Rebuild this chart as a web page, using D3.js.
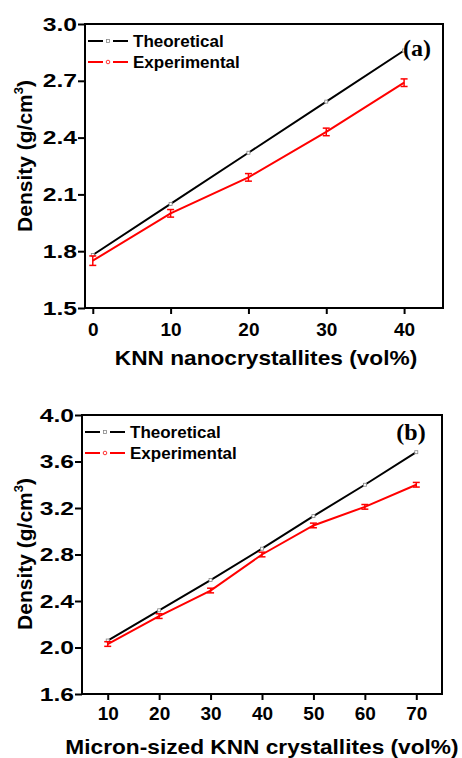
<!DOCTYPE html>
<html>
<head>
<meta charset="utf-8">
<script src="https://cdn.jsdelivr.net/npm/d3@7"></script>
<style>
  body { margin: 0; background: #fff; }
  svg text { font-family: "Liberation Sans", Arial, sans-serif; font-weight: bold; }
</style>
</head>
<body>
<svg id="chart" width="462" height="758"></svg>
<script>
// panel (a)
var nanoX      = [0, 10, 20, 30, 40];
var nanoTheo   = [1.78, 2.05, 2.32, 2.59, 2.86];
var nanoExp    = [1.75, 2.00, 2.19, 2.43, 2.69];
var nanoErr    = [0.025, 0.02, 0.02, 0.02, 0.02];
var nanoYTicks = [1.5, 1.8, 2.1, 2.4, 2.7, 3.0];

// panel (b)
var micX      = [10, 20, 30, 40, 50, 60, 70];
var micTheo   = [2.06, 2.32, 2.58, 2.85, 3.13, 3.40, 3.68];
var micExp    = [2.03, 2.27, 2.49, 2.80, 3.05, 3.21, 3.40];
var micErr    = [0.02, 0.02, 0.02, 0.02, 0.02, 0.02, 0.02];
var micYTicks = [1.6, 2.0, 2.4, 2.8, 3.2, 3.6, 4.0];

var seriesNames = ["Theoretical", "Experimental"];

var svg = d3.select("#chart");

// widen text horizontally (the source figure is a bit stretched)
function stretch(sel, k) {
    sel.each(function() {
        var w = this.getComputedTextLength();
        d3.select(this).attr("textLength", w * k).attr("lengthAdjust", "spacingAndGlyphs");
    });
}

function drawPanel(p) {
    var g = svg.append("g");

    var x = d3.scaleLinear().domain(p.xDomain).range([p.left, p.right]);
    var y = d3.scaleLinear().domain(p.yDomain).range([p.bottom, p.top]);

    // axes
    g.append("g")
        .attr("transform", "translate(0," + p.bottom + ")")
        .call(d3.axisBottom(x).tickValues(p.xs).tickSize(6).tickSizeOuter(0).tickFormat(d3.format("d")))
        .call(function(a) {
            a.select(".domain").remove();
            a.selectAll("line").attr("stroke", "#000").attr("stroke-width", 2);
            a.selectAll("text").attr("font-size", 19).attr("y", p.xTickY).attr("dy", 0).attr("fill", "#000");
        });

    var yAx = g.append("g")
        .attr("transform", "translate(" + p.left + ",0)")
        .call(d3.axisLeft(y).tickValues(p.yTicks).tickSize(7).tickSizeOuter(0).tickFormat(d3.format(".1f")))
        .call(function(a) {
            a.select(".domain").remove();
            a.selectAll("line").attr("stroke", "#000").attr("stroke-width", 2);
            a.selectAll("text").attr("font-size", 19).attr("x", -8).attr("fill", "#000");
        });
    stretch(yAx.selectAll("text"), 1.3);

    g.append("rect")
        .attr("x", p.left).attr("y", p.top)
        .attr("width", p.right - p.left).attr("height", p.bottom - p.top)
        .attr("fill", "none").attr("stroke", "#000").attr("stroke-width", 2);

    var line = d3.line().x(function(d) { return x(d[0]); }).y(function(d) { return y(d[1]); });

    // theoretical
    g.append("path")
        .datum(d3.zip(p.xs, p.theo))
        .attr("d", line).attr("fill", "none").attr("stroke", "#000").attr("stroke-width", 2);
    g.selectAll(".sq").data(d3.zip(p.xs, p.theo)).enter().append("rect")
        .attr("x", function(d) { return x(d[0]) - 1.5; })
        .attr("y", function(d) { return y(d[1]) - 1.5; })
        .attr("width", 3).attr("height", 3)
        .attr("fill", "#fff").attr("stroke", "#888").attr("stroke-width", 0.8);

    // experimental
    g.append("path")
        .datum(d3.zip(p.xs, p.exp))
        .attr("d", line).attr("fill", "none").attr("stroke", "#f00").attr("stroke-width", 2);
    var eb = g.selectAll(".eb").data(d3.zip(p.xs, p.exp, p.err)).enter().append("g");
    eb.append("line")
        .attr("x1", function(d) { return x(d[0]); }).attr("x2", function(d) { return x(d[0]); })
        .attr("y1", function(d) { return y(d[1] - d[2]); }).attr("y2", function(d) { return y(d[1] + d[2]); })
        .attr("stroke", "#f00").attr("stroke-width", 1.5);
    [-1, 1].forEach(function(s) {
        eb.append("line")
            .attr("x1", function(d) { return x(d[0]) - 3.5; }).attr("x2", function(d) { return x(d[0]) + 3.5; })
            .attr("y1", function(d) { return y(d[1] + s * d[2]); }).attr("y2", function(d) { return y(d[1] + s * d[2]); })
            .attr("stroke", "#f00").attr("stroke-width", 1.5);
    });

    // legend
    var colors = ["#000", "#f00"];
    seriesNames.forEach(function(name, i) {
        var ly = p.legendY + i * 21;
        var lx = p.left + 3;
        g.append("line").attr("x1", lx).attr("x2", lx + 15).attr("y1", ly).attr("y2", ly)
            .attr("stroke", colors[i]).attr("stroke-width", 2);
        g.append("line").attr("x1", lx + 25).attr("x2", lx + 40).attr("y1", ly).attr("y2", ly)
            .attr("stroke", colors[i]).attr("stroke-width", 2);
        if (i == 0)
            g.append("rect").attr("x", lx + 18.5).attr("y", ly - 1.5).attr("width", 3).attr("height", 3)
                .attr("fill", "#fff").attr("stroke", "#888").attr("stroke-width", 0.8);
        else
            g.append("circle").attr("cx", lx + 20).attr("cy", ly).attr("r", 1.8)
                .attr("fill", "#fff").attr("stroke", "#f00").attr("stroke-width", 0.8);
        g.append("text").attr("x", lx + 45).attr("y", ly).attr("dy", "0.35em")
            .attr("font-size", 17).text(name);
    });

    // panel letter
    g.append("text")
        .attr("x", p.letterX).attr("y", p.letterY).attr("dy", "0.35em")
        .attr("text-anchor", "middle")
        .style("font-family", "'Liberation Serif', 'Times New Roman', serif")
        .attr("font-size", 24).text(p.letter);

    // axis titles
    var xt = g.append("text")
        .attr("x", p.xTitleX).attr("y", p.xTitleY)
        .attr("text-anchor", "middle").attr("font-size", 21).text(p.xTitle);
    stretch(xt, 1.08);

    var yt = g.append("text")
        .attr("transform", "translate(" + p.yTitleX + "," + p.yTitleY + ") rotate(-90)")
        .attr("text-anchor", "middle").attr("font-size", 21);
    yt.append("tspan").text("Density (g/cm");
    yt.append("tspan").attr("font-size", 13).attr("dy", -9).text("3");
    yt.append("tspan").attr("dy", 9).text(")");
}

drawPanel({
    xs: nanoX, theo: nanoTheo, exp: nanoExp, err: nanoErr, yTicks: nanoYTicks,
    xDomain: [-1, 45], yDomain: [1.5, 3.0],
    left: 85, right: 443, top: 24, bottom: 308, xTickY: 28,
    legendY: 41, letter: "(a)", letterX: 417, letterY: 48,
    xTitle: "KNN nanocrystallites (vol%)", xTitleX: 266, xTitleY: 365,
    yTitleX: 32, yTitleY: 156
});

drawPanel({
    xs: micX, theo: micTheo, exp: micExp, err: micErr, yTicks: micYTicks,
    xDomain: [5, 75], yDomain: [1.6, 4.0],
    left: 82, right: 442, top: 415, bottom: 694, xTickY: 26,
    legendY: 432, letter: "(b)", letterX: 411, letterY: 432,
    xTitle: "Micron-sized KNN crystallites (vol%)", xTitleX: 262, xTitleY: 754,
    yTitleX: 32, yTitleY: 554
});
</script>
</body>
</html>
